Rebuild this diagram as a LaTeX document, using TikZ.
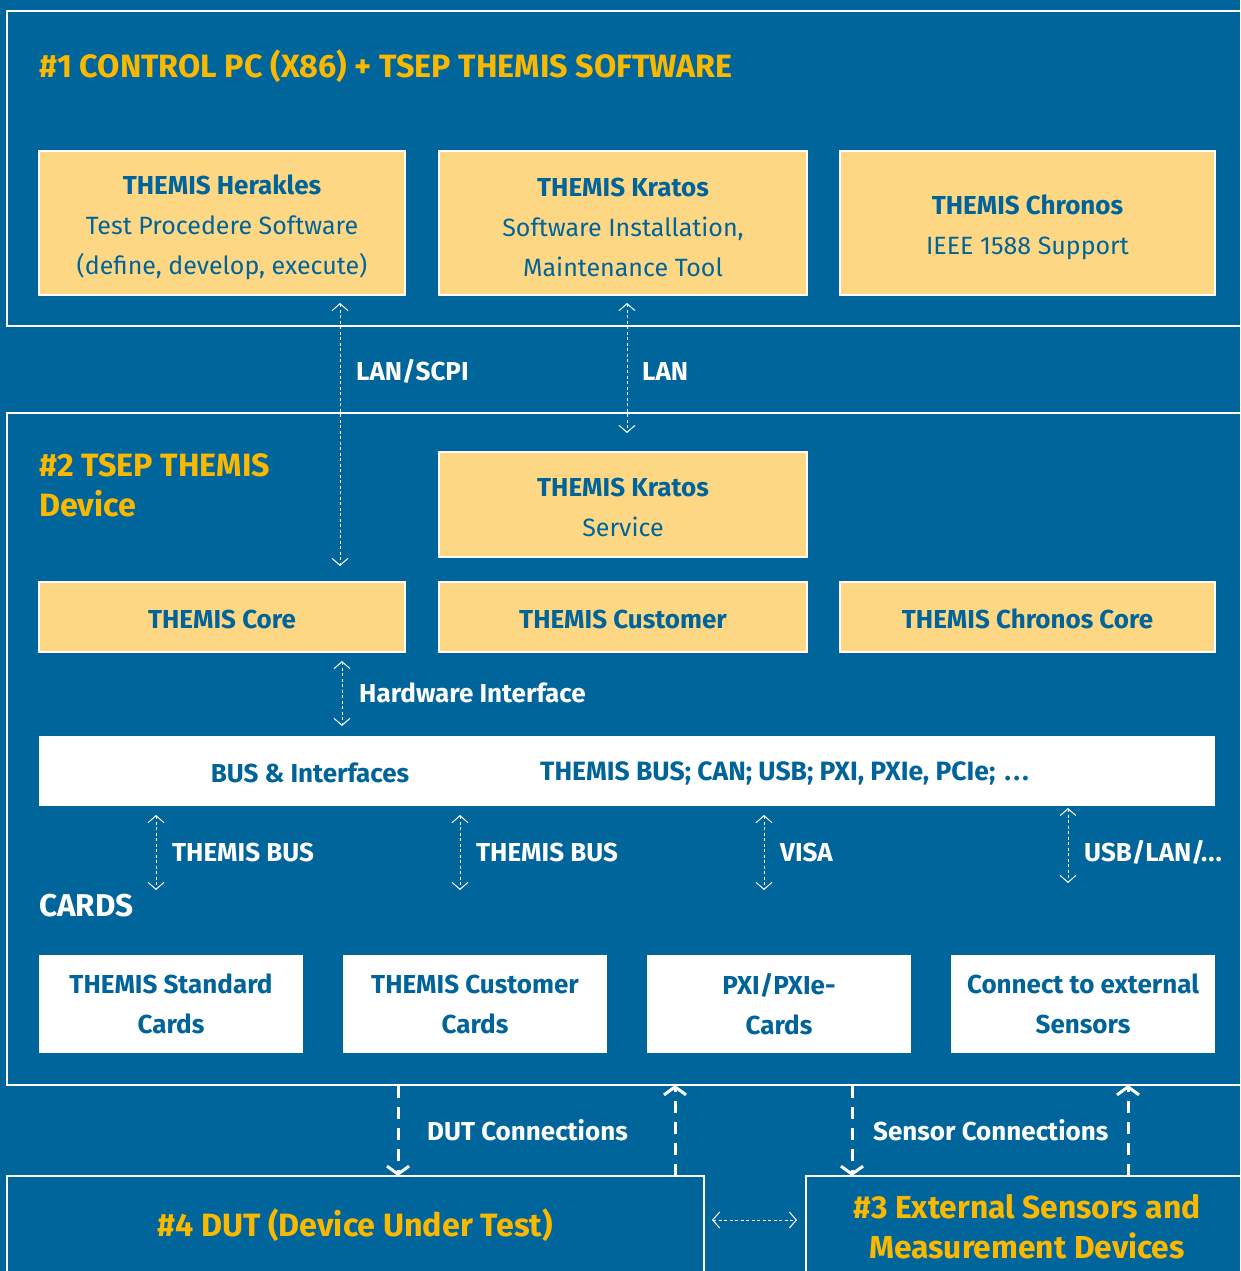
\documentclass[tikz,border=0pt]{standalone}
\usepackage{fontspec}
\setmainfont{Fira Sans}
\usetikzlibrary{arrows.meta}
\definecolor{bg}{HTML}{00659B}
\definecolor{gold}{HTML}{FAB900}
\definecolor{pale}{HTML}{FDD784}
\definecolor{navy}{HTML}{00649A}
\newcommand{\bft}{\bfseries\fontsize{26}{40}\selectfont}
\newcommand{\rgt}{\fontsize{25}{40}\selectfont}
\tikzset{
  ybox/.style={draw=white, line width=2pt, fill=pale, inner sep=0pt},
  ytext/.style={text=navy, align=center, inner sep=0pt, font=\rgt},
  wbox/.style={fill=white, text=navy, align=center, inner sep=0pt, font=\bft},
  frame/.style={draw=white, line width=1.2pt},
  title/.style={text=gold, font=\bfseries\fontsize{32.3}{40}\selectfont, inner sep=0pt},
  lbl/.style={text=white, font=\bft, inner sep=0pt, anchor=west},
  thinarrow/.style={draw=white, line width=1pt, dash pattern=on 3pt off 2.5pt, {Straight Barb[length=7pt,width=16pt]}-{Straight Barb[length=7pt,width=16pt]}},
  thickarrow/.style={draw=white, line width=3pt, dash pattern=on 12pt off 9pt, -{Straight Barb[length=8pt,width=22pt]}},
}
\begin{document}
\begin{tikzpicture}[x=1pt,y=-1pt]
\useasboundingbox (0,0) rectangle (1240,1271);
\clip (0,0) rectangle (1240,1271);
\fill[bg] (0,0) rectangle (1240,1271);
% frames
\draw[frame] (1260,11) -- (7,11) -- (7,326) -- (1260,326);
\draw[frame] (1260,413) -- (7,413) -- (7,1085) -- (1260,1085);
\node[frame, minimum width=697pt, minimum height=110pt, inner sep=0pt] (dut) at (355.5,1231) {};
\node[frame, minimum width=460pt, minimum height=110pt, inner sep=0pt] (ext) at (1036,1231) {};
% titles
\node[title, anchor=west] (t1) at (39,66) {\#1 CONTROL PC (X86) + TSEP THEMIS SOFTWARE};
\node[title, anchor=north west, align=left] (t2) at (39,453) {\#2 TSEP THEMIS\\Device};
\node[title] (t4) at (355,1225) {\#4 DUT (Device Under Test)};
\node[title, align=center, font=\bfseries\fontsize{31.8}{40}\selectfont] (t3) at (1027,1227) {\#3 External Sensors and\\Measurement Devices};
\node[text=white, font=\bfseries\fontsize{31.5}{40}\selectfont, inner sep=0pt, anchor=west] (cards) at (39,906) {CARDS};
% level 1 boxes
\node[ybox, minimum width=366pt, minimum height=144pt] (herakles) at (222,223) {};
\node[ybox, minimum width=368pt, minimum height=144pt] (kratos) at (623,223) {};
\node[ybox, minimum width=375pt, minimum height=144pt] (chronos) at (1027.5,223) {};
\node[ytext, yshift=-4pt] (heraklesT) at (herakles) {\textbf{\bft THEMIS Herakles}\\Test Procedere Software\\(define, develop, execute)};
\node[ytext, yshift=-4pt] (kratosT) at (kratos) {\textbf{\bft THEMIS Kratos}\\Software Installation,\\Maintenance Tool};
\node[ytext, yshift=-4pt] (chronosT) at (chronos) {\textbf{\bft THEMIS Chronos}\\IEEE 1588 Support};
% level 2 boxes
\node[ybox, minimum width=368pt, minimum height=105pt] (kservice) at (623,504.5) {};
\node[ytext, yshift=-3pt] (kserviceT) at (kservice) {\textbf{\bft THEMIS Kratos}\\Service};
\node[ybox, minimum width=366pt, minimum height=70pt] (core) at (222,617) {};
\node[ybox, minimum width=368pt, minimum height=70pt] (customer) at (623,617) {};
\node[ybox, minimum width=375pt, minimum height=70pt] (chcore) at (1027.5,617) {};
\node[ytext, font=\bft, yshift=-2pt] (coreT) at (core) {THEMIS Core};
\node[ytext, font=\bft, yshift=-2pt] (customerT) at (customer) {THEMIS Customer};
\node[ytext, font=\bft, yshift=-2pt] (chcoreT) at (chcore) {THEMIS Chronos Core};
% bus bar
\node[wbox, minimum width=1176pt, minimum height=70pt] (bus) at (627,771) {};
\node[text=navy, font=\bft, inner sep=0pt] (busA) at (310,773) {BUS \& Interfaces};
\node[text=navy, font=\bfseries\fontsize{26.5}{40}\selectfont, inner sep=0pt, anchor=west] (busB) at (540,773) {THEMIS BUS; CAN; USB; PXI, PXIe, PCIe;\hspace{3pt} .\kern2.5pt.\kern2.5pt.};
% cards
\node[wbox, minimum width=264pt, minimum height=98pt] (c1) at (171,1004) {THEMIS Standard\\Cards};
\node[wbox, minimum width=264pt, minimum height=98pt] (c2) at (475,1004) {THEMIS Customer\\Cards};
\node[wbox, minimum width=264pt, minimum height=98pt] (c3) at (779,1004) {PXI/PXIe-\\Cards};
\node[wbox, minimum width=264pt, minimum height=98pt] (c4) at (1083,1004) {Connect to external\\Sensors};
% arrow endpoints
\coordinate (a1s) at (340,303); \coordinate (a1e) at (340,566);
\coordinate (a2s) at (627,303); \coordinate (a2e) at (627,433);
\coordinate (a3s) at (342,661); \coordinate (a3e) at (342,726);
\coordinate (b1s) at (156,815); \coordinate (b1e) at (156,890);
\coordinate (b2s) at (460,815); \coordinate (b2e) at (460,890);
\coordinate (b3s) at (764,815); \coordinate (b3e) at (764,890);
\coordinate (b4s) at (1068,808); \coordinate (b4e) at (1068,883);
\coordinate (d1s) at (398,1086); \coordinate (d1e) at (398,1176);
\coordinate (d2s) at (675,1176); \coordinate (d2e) at (675,1085);
\coordinate (s1s) at (852,1086); \coordinate (s1e) at (852,1176);
\coordinate (s2s) at (1128,1176); \coordinate (s2e) at (1128,1085);
\coordinate (hs) at (712,1220); \coordinate (he) at (797,1220);
% thin arrows
\draw[thinarrow] (a1s) -- (a1e);
\draw[thinarrow] (a2s) -- (a2e);
\draw[thinarrow] (a3s) -- (a3e);
\draw[thinarrow] (b1s) -- (b1e);
\draw[thinarrow] (b2s) -- (b2e);
\draw[thinarrow] (b3s) -- (b3e);
\draw[thinarrow] (b4s) -- (b4e);
\draw[thinarrow] (hs) -- (he);
% thick arrows
\draw[thickarrow] (d1s) -- (d1e);
\draw[thickarrow] (d2s) -- (d2e);
\draw[thickarrow] (s1s) -- (s1e);
\draw[thickarrow] (s2s) -- (s2e);
% labels
\node[lbl] at (356,371) {LAN/SCPI};
\node[lbl] at (642,371) {LAN};
\node[lbl] at (359,693) {Hardware Interface};
\node[lbl] at (172,852) {THEMIS BUS};
\node[lbl] at (476,852) {THEMIS BUS};
\node[lbl] at (780,852) {VISA};
\node[lbl] at (1084,852) {USB/LAN/.\kern1pt.\kern1pt.};
\node[lbl] at (427,1130) {DUT Connections};
\node[lbl] at (873,1130) {Sensor Connections};
\end{tikzpicture}
\end{document}
